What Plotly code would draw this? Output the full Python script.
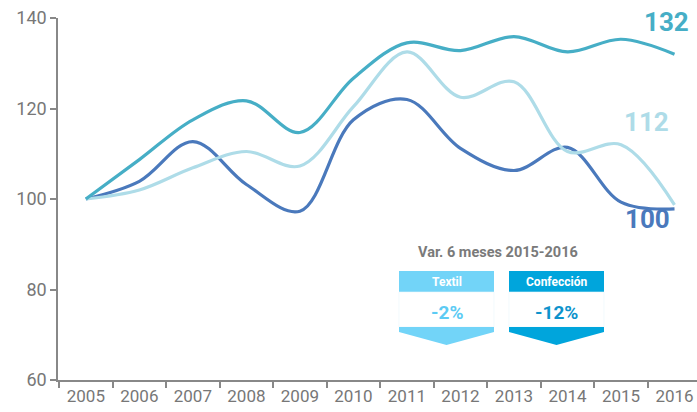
import plotly.graph_objects as go

years = ["2005", "2006", "2007", "2008", "2009", "2010", "2011", "2012", "2013", "2014", "2015", "2016"]
teal_vals = [100, 108.7, 117.5, 121.7, 114.7, 126.7, 134.5, 132.8, 135.9, 132.5, 135.3, 132.0]
light_vals = [100, 102.0, 106.9, 110.5, 107.3, 120.4, 132.5, 122.5, 125.9, 110.5, 112.0, 98.7]
dark_vals = [100, 103.9, 112.7, 103.2, 97.3, 117.5, 122.0, 111.2, 106.3, 111.4, 99.3, 97.8]
end_labels = ["132", "112", "100"]
inset_title = "Var. 6 meses 2015-2016"
box_names = ["Textil", "Confección"]
box_values = ["-2%", "-12%"]

C_TEAL = "#46AEC6"
C_LIGHT = "#AEDCE8"
C_DARK = "#4A79BC"
C_HEAD1 = "#72D4F8"
C_HEAD2 = "#00A5DC"
C_VAL1 = "#5CCBF4"
C_VAL2 = "#0D93CC"

W, H = 697, 412
# target pixel positions of the plot area
AX_L, AX_R, AX_T, AX_B = 58, 697, 18, 380
L, R, T, B = AX_L, W - AX_R, AX_T, H - AX_B
PW, PH = AX_R - AX_L, AX_B - AX_T


def px(x):
    return (x - AX_L) / PW


def py(y):
    return (AX_B - y) / PH


fig = go.Figure()
for vals, col in [(dark_vals, C_DARK), (light_vals, C_LIGHT), (teal_vals, C_TEAL)]:
    fig.add_trace(go.Scatter(x=years, y=vals, mode="lines",
                             line=dict(color=col, width=3.2, shape="spline", smoothing=1),
                             hoverinfo="skip", showlegend=False))

fig.update_layout(
    width=W, height=H,
    margin=dict(l=L, r=R, t=T, b=B, pad=0),
    paper_bgcolor="white", plot_bgcolor="white",
    font=dict(family="Roboto", color="#777777"),
    showlegend=False,
)
fig.update_xaxes(type="category", range=[-0.52, 11.42], tickson="boundaries",
                 ticks="outside", ticklen=6, tickcolor="#888888", tickwidth=1.5,
                 showline=True, linecolor="#888888", linewidth=1.5,
                 showgrid=False, zeroline=False, ticklabeloverflow="allow",
                 tickfont=dict(size=17, color="#777777", family="Roboto"))
fig.update_yaxes(range=[60, 140], tickvals=[60, 80, 100, 120, 140],
                 ticks="outside", ticklen=6, tickcolor="#888888", tickwidth=1.5,
                 showline=True, linecolor="#888888", linewidth=1.5,
                 showgrid=False, zeroline=False, ticklabeloverflow="allow",
                 tickfont=dict(size=18, color="#777777", family="Roboto"))

# end labels
for txt, col, (xx, yy) in zip(end_labels, [C_TEAL, C_LIGHT, C_DARK], [(666, 22), (646, 122), (647, 219)]):
    fig.add_annotation(x=px(xx), y=py(yy), xref="paper", yref="paper", text=f"<b>{txt}</b>",
                       showarrow=False, font=dict(size=26, color=col, family="Roboto"),
                       xanchor="center", yanchor="middle")

# inset
fig.add_annotation(x=px(498), y=py(252), xref="paper", yref="paper", text=f"<b>{inset_title}</b>",
                   showarrow=False, font=dict(size=14.5, color="#7a7a7a", family="Roboto"),
                   xanchor="center", yanchor="middle")

boxes = [(399, 494, C_HEAD1, C_VAL1), (509, 604, C_HEAD2, C_VAL2)]
for (x0, x1, hc, vc), name, val in zip(boxes, box_names, box_values):
    cx = (x0 + x1) / 2
    fig.add_shape(type="rect", xref="paper", yref="paper",
                  x0=px(x0), x1=px(x1), y0=py(292), y1=py(271),
                  fillcolor=hc, line=dict(width=0))
    fig.add_shape(type="rect", xref="paper", yref="paper",
                  x0=px(x0), x1=px(x1), y0=py(327), y1=py(292),
                  fillcolor="white", line=dict(width=0.6, color="#EAF6FB"))
    path = (f"M {px(x0)},{py(327)} L {px(x1)},{py(327)} L {px(x1)},{py(332)} "
            f"L {px(cx)},{py(345)} L {px(x0)},{py(332)} Z")
    fig.add_shape(type="path", xref="paper", yref="paper", path=path,
                  fillcolor=hc, line=dict(width=0))
    fig.add_annotation(x=px(cx), y=py(282), xref="paper", yref="paper", text=f"<b>{name}</b>",
                       showarrow=False, font=dict(size=12, color="white", family="Roboto"),
                       xanchor="center", yanchor="middle")
    fig.add_annotation(x=px(cx), y=py(312), xref="paper", yref="paper", text=f"<b>{val}</b>",
                       showarrow=False, font=dict(size=19, color=vc, family="Roboto"),
                       xanchor="center", yanchor="middle")

fig.write_html("out.html", config={"displayModeBar": False},
               post_script="document.body.style.margin='0px';document.body.style.overflow='hidden';")
